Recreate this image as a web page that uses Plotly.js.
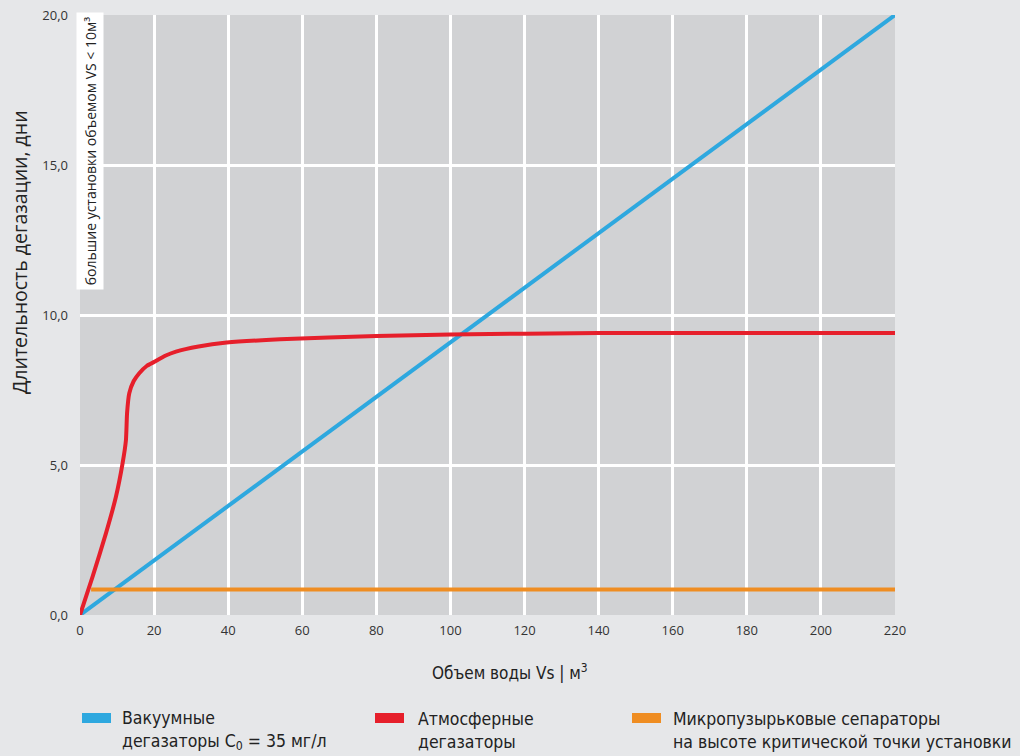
<!DOCTYPE html>
<html><head><meta charset="utf-8">
<script src="https://cdn.plot.ly/plotly-3.0.1.min.js"></script>
<style>html,body{margin:0;padding:0;background:#e6e7e9;}#chart{width:1020px;height:756px;}</style>
</head><body><div id="chart"></div>
<script>
// Data
var vacuumX = [0, 220];
var vacuumY = [0, 20];
var atmosX = [0, 3.4, 7.0, 9.7, 11.5, 12.4, 12.7, 13.3, 14.5, 16.0, 18, 20.1, 23, 25.9, 32, 39.6, 54, 80, 100, 140, 180, 220];
var atmosY = [0, 1.28, 2.72, 3.94, 5.06, 5.83, 6.72, 7.39, 7.8, 8.06, 8.3, 8.44, 8.64, 8.78, 8.95, 9.08, 9.19, 9.3, 9.35, 9.4, 9.4, 9.4];
var microX = [3, 220];
var microY = [0.85, 0.85];
var xTicks = [0, 20, 40, 60, 80, 100, 120, 140, 160, 180, 200, 220];
var yTicks = [0, 5, 10, 15, 20];
var seriesNames = ["Вакуумные<br>дегазаторы C<sub>0</sub> = 35 мг/л", "Атмосферные<br>дегазаторы", "Микропузырьковые сепараторы<br>на высоте критической точки установки"];
var seriesColors = ["#2ea8df", "#e61f2b", "#ef8d22"];

var traces = [
  {x: vacuumX, y: vacuumY, mode: 'lines', line: {color: seriesColors[0], width: 4}, showlegend: false},
  {x: atmosX, y: atmosY, mode: 'lines', line: {color: seriesColors[1], width: 4, shape: 'spline', smoothing: 0.5}, showlegend: false},
  {x: microX, y: microY, mode: 'lines', line: {color: seriesColors[2], width: 4}, showlegend: false}
];

var condensed = '"DejaVu Sans Condensed", "Roboto Condensed", "Open Sans", sans-serif';
var W = 815, H = 600, L = 80, T = 15;
function px(x){return (x - L)/W;}
function py(y){return (T + H - y)/H;}

var shapes = [], annotations = [];
var swX = [82, 375, 632], txX = [120, 416, 671];
for (var i = 0; i < 3; i++) {
  shapes.push({type: 'rect', xref: 'paper', yref: 'paper', x0: px(swX[i]), x1: px(swX[i] + 29), y0: py(723), y1: py(713), fillcolor: seriesColors[i], line: {width: 0}});
  annotations.push({xref: 'paper', yref: 'paper', x: px(txX[i]), y: py(730), xanchor: 'left', yanchor: 'middle', align: 'left', showarrow: false, text: seriesNames[i], font: {family: condensed, size: 17.5, color: '#222'}});
}
annotations.push({xref: 'paper', yref: 'paper', x: px(510), y: py(672), xanchor: 'center', yanchor: 'middle', showarrow: false, text: 'Объем воды Vs | м<sup>3</sup>', font: {family: condensed, size: 17, color: '#222'}});
annotations.push({xref: 'paper', yref: 'paper', x: px(19), y: py(252), xanchor: 'center', yanchor: 'middle', textangle: -90, showarrow: false, text: 'Длительность дегазации, дни', font: {family: '"Open Sans", sans-serif', size: 19.5, color: '#222'}});
annotations.push({xref: 'paper', yref: 'paper', x: px(90), y: py(151), xanchor: 'center', yanchor: 'middle', textangle: -90, showarrow: false, text: 'большие установки объемом VS &lt; 10м³', bgcolor: '#ffffff', borderpad: 2, width: 272, height: 22, font: {family: '"Open Sans", sans-serif', size: 14, color: '#222'}});

var layout = {
  width: 1020, height: 756,
  margin: {l: L, r: 1020 - L - W, t: T, b: 756 - T - H},
  paper_bgcolor: '#e6e7e9', plot_bgcolor: '#d1d2d4',
  separators: ', ',
  showlegend: false,
  xaxis: {range: [0, 220], tickvals: xTicks, ticktext: xTicks.map(String), showgrid: true, gridcolor: '#ffffff', gridwidth: 3, zeroline: false, showline: false, ticks: '', ticklabelstandoff: 6, tickfont: {family: '"Open Sans", sans-serif', size: 13, color: '#333'}, fixedrange: true},
  yaxis: {range: [0, 20], tickvals: yTicks, ticktext: yTicks.map(function(v){return v.toFixed(1).replace('.', ',');}), showgrid: true, gridcolor: '#ffffff', gridwidth: 3, zeroline: false, showline: false, ticks: '', ticklabelstandoff: 11, tickfont: {family: '"Open Sans", sans-serif', size: 13, color: '#333'}, fixedrange: true},
  shapes: shapes,
  annotations: annotations
};
Plotly.newPlot('chart', traces, layout, {displayModeBar: false, staticPlot: true});
</script></body></html>
